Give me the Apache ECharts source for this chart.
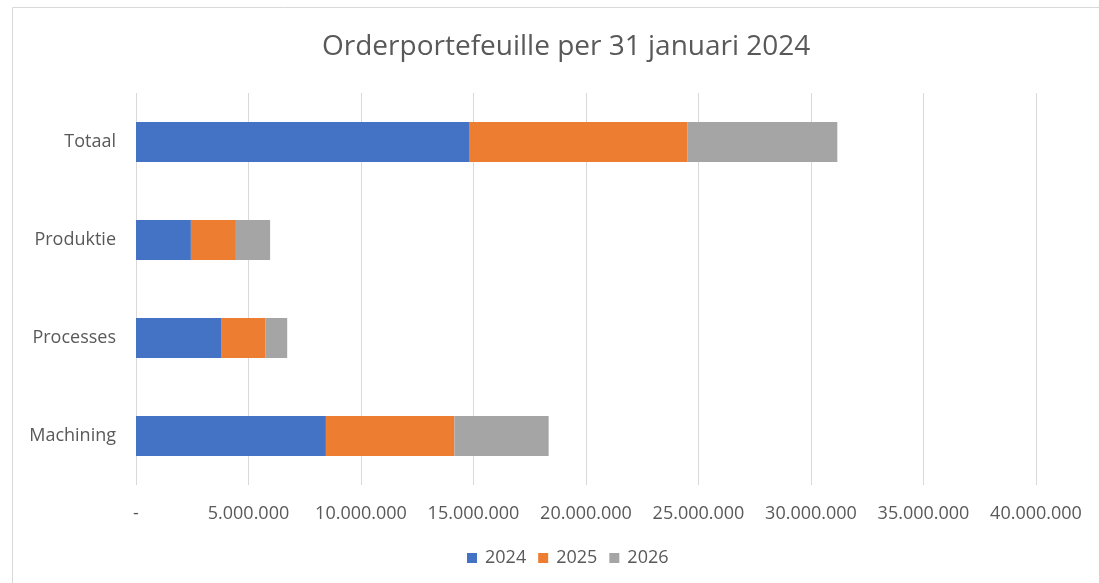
<!DOCTYPE html>
<html>
<head>
<meta charset="utf-8">
<title>Orderportefeuille</title>
<script src="https://cdn.jsdelivr.net/npm/echarts@6/dist/echarts.min.js"></script>
<style>
    html, body { margin: 0; padding: 0; background: #fff; }
    #chart { width: 1099px; height: 583px; }
</style>
</head>
<body>
<div id="chart"></div>
<script>
// categories bottom -> top (as drawn on the y axis)
var categories = ['Machining', 'Processes', 'Produktie', 'Totaal'];
var years = ['2024', '2025', '2026'];
var values2024 = [8440000, 3780000, 2440000, 14800000];
var values2025 = [5710000, 1980000, 2000000, 9700000];
var values2026 = [4190000, 960000, 1520000, 6670000];
var colors = ['#4472C4', '#ED7D31', '#A5A5A5'];

var textColor = '#595959';
var fontName = '"Open Sans", "Liberation Sans", sans-serif';

function formatNumber(v) {
    if (v === 0) return '-';
    return String(v).replace(/\B(?=(\d{3})+(?!\d))/g, '.');
}

var seriesData = [values2024, values2025, values2026];
var series = [];
for (var i = 0; i < years.length; i++) {
    series.push({
        name: years[i],
        type: 'bar',
        stack: 'total',
        barWidth: 40,
        itemStyle: { color: colors[i] },
        data: seriesData[i]
    });
}

var option = {
    animation: false,
    textStyle: { fontFamily: fontName },
    graphic: [{
        type: 'rect',
        shape: { x: 12.5, y: 7.5, width: 1100, height: 600 },
        style: { fill: 'none', stroke: '#D9D9D9', lineWidth: 1 },
        silent: true
    }],
    // the chart frame runs past the right edge, so title/legend sit right of page centre
    title: {
        text: 'Orderportefeuille per 31 januari 2024',
        left: 317,
        top: 28,
        textStyle: { color: textColor, fontSize: 28, fontWeight: 'normal', fontFamily: fontName }
    },
    legend: {
        bottom: 11,
        left: 462,
        itemWidth: 10,
        itemHeight: 10,
        itemGap: 12,
        icon: 'rect',
        textStyle: { color: textColor, fontSize: 18, fontFamily: fontName, padding: [0, 0, 0, 3] },
        data: years
    },
    grid: { left: 136, right: 63, top: 93, bottom: 98, containLabel: false },
    xAxis: {
        type: 'value',
        min: 0,
        max: 40000000,
        interval: 5000000,
        axisLine: { show: false },
        axisTick: { show: false },
        splitLine: { show: true, lineStyle: { color: '#D9D9D9', width: 1 } },
        axisLabel: {
            color: textColor,
            fontSize: 18,
            margin: 20,
            formatter: formatNumber
        }
    },
    yAxis: {
        type: 'category',
        data: categories,
        axisLine: { show: false },
        axisTick: { show: false },
        axisLabel: { color: textColor, fontSize: 18, margin: 20 }
    },
    series: series
};

var myChart = echarts.init(document.getElementById('chart'));
myChart.setOption(option, true);
</script>
</body>
</html>
